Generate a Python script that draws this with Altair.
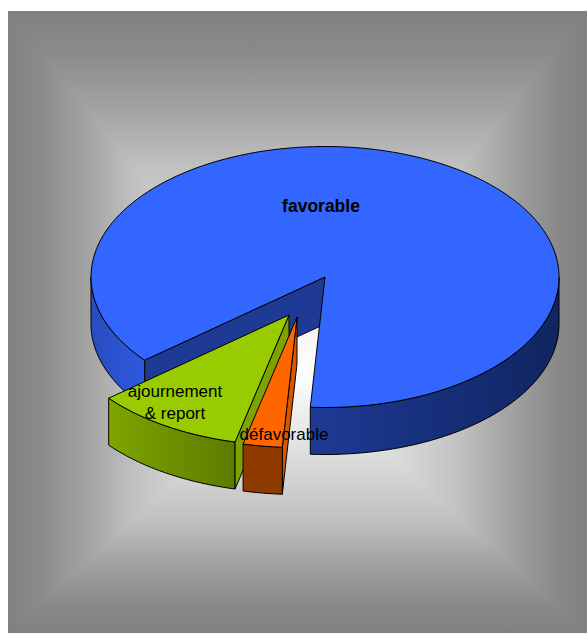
import math
import altair as alt

# Shares of opinions, in percent, going clockwise from the front of the pie
categories = ["défavorable", "ajournement & report", "favorable"]
shares = [2.7, 10.3, 87.0]
label_lines = ["défavorable", "ajournement\n& report", "favorable"]

# Pie drawn as an extruded ellipse
W, H = 587, 633
RX, RY = 234, 130.5
DEPTH = 47
START_ANGLE = 93.6
centres = [(297, 317), (289, 315), (325, 277)]
label_offsets = [(-13, 118), (-114, 77), (-4, -70)]

x_enc = alt.X("x:Q", axis=None, scale=alt.Scale(domain=[0, W], range=[0, W], nice=False, zero=False))
y_enc = alt.Y("y:Q", axis=None, scale=alt.Scale(domain=[0, H], range=[0, H], nice=False, zero=False))


def gradient(stops, horizontal=True, reverse=False, offsets=None):
    n = len(stops) - 1
    offs = offsets or [k / n for k in range(n + 1)]
    g = [alt.GradientStop(offset=o, color=c) for o, c in zip(offs, stops)]
    ends = dict(x1=0, x2=1, y1=0, y2=0) if horizontal else dict(x1=0, x2=0, y1=0, y2=1)
    if reverse:
        ends = dict(x1=ends["x2"], x2=ends["x1"], y1=ends["y2"], y2=ends["y1"])
    return alt.Gradient(gradient="linear", stops=g, **ends)


def face(points, fill, line=True):
    pts = list(points) + [points[0]]
    rows = [{"x": round(x, 2), "y": round(y, 2), "i": i} for i, (x, y) in enumerate(pts)]
    return alt.Chart(alt.Data(values=rows)).mark_line(
        fill=fill,
        stroke="#000000",
        strokeWidth=1 if line else 0,
        strokeJoin="miter",
    ).encode(x=x_enc, y=y_enc, order=alt.Order("i:Q"))


def rim(c, a0, a1):
    steps = max(2, int(abs(a1 - a0) / 2))
    out = []
    for k in range(steps + 1):
        a = math.radians(a0 + (a1 - a0) * k / steps)
        out.append((c[0] + RX * math.cos(a), c[1] + RY * math.sin(a)))
    return out


def drop(pts):
    return [(x, y + DEPTH) for x, y in pts]


# Slice boundaries from the shares
spans = []
a = START_ANGLE
for s in shares:
    spans.append((a, a + s * 3.6))
    a += s * 3.6

# Backdrop: a full-height vertical ramp, with side ramps laid over it.
# All ramps share one edge-to-centre profile so the diagonals stay seamless.
cx, cy = 297, 372
L, T, R, B = 8, 11, W, H
ramp_pos = [0, 0.11, 0.28, 0.43, 0.67, 1]
ramp_col = ["#808080", "#8a8a8a", "#a4a4a4", "#c0c0c0", "#dcdcdc", "#ffffff"]
m = (cy - T) / (B - T)
v_off = [p * m for p in ramp_pos] + [m + (1 - m) * (1 - p) for p in ramp_pos[::-1][1:]]
v_col = ramp_col + ramp_col[::-1][1:]
layers = [
    face([(L, T), (R, T), (R, B), (L, B)], gradient(v_col, horizontal=False, offsets=v_off), line=False),
    face([(L, T), (L, B), (cx, cy)], gradient(ramp_col, offsets=ramp_pos), line=False),
    face([(R, T), (R, B), (cx, cy)], gradient(ramp_col, offsets=ramp_pos, reverse=True), line=False),
]

# Favorable slice: sides first, top face last
c = centres[2]
a0, a1 = spans[2]
left_rim = rim(c, a0, 180)
layers.append(face(left_rim + drop(left_rim)[::-1], gradient(["#2e5ae0", "#284cc0"], reverse=True)))
front_rim = rim(c, a1, 360)
layers.append(face(front_rim + drop(front_rim)[::-1], gradient(["#1e3a94", "#102560"])))
edge = rim(c, a0, a0)[0]
layers.append(face([c, edge, drop([edge])[0], drop([c])[0]], "#1f3a94"))
layers.append(face([c] + rim(c, a0, a1), "#3366ff"))

# Ajournement slice
c = centres[1]
a0, a1 = spans[1]
outer = rim(c, a1, a0)
layers.append(face(outer + drop(outer)[::-1], gradient(["#7fa600", "#5c7a00"])))
edge = rim(c, a0, a0)[0]
layers.append(face([c, drop([c])[0], drop([edge])[0], edge], "#7da300"))
layers.append(face([c] + rim(c, a0, a1), "#99cc00"))

# Défavorable slice
c = centres[0]
a0, a1 = spans[0]
outer = rim(c, a1, a0)
edge = rim(c, a0, a0)[0]
layers.append(face([c, drop([c])[0], drop([edge])[0], edge], "#d95500"))
layers.append(face(outer + drop(outer)[::-1], "#8f3b00"))
layers.append(face([c] + rim(c, a0, a1), "#ff6600"))

# Labels
for i, (text, c, off) in enumerate(zip(label_lines, centres, label_offsets)):
    layers.append(
        alt.Chart(alt.Data(values=[{"x": c[0] + off[0], "y": c[1] + off[1], "t": text}])).mark_text(
            font="Liberation Sans",
            fontSize=17.5 if i == 2 else 17,
            fontWeight="bold" if i == 2 else "normal",
            color="#000000",
            align="center",
            baseline="middle",
            lineBreak="\n",
            lineHeight=22,
        ).encode(x=x_enc, y=y_enc, text="t:N")
    )

chart = (
    alt.layer(*layers)
    .properties(width=W, height=H, padding=0, autosize=alt.AutoSizeParams(type="none"), background="#ffffff")
    .configure_view(strokeWidth=0)
)
chart.save("out.html", embed_options={"renderer": "svg", "actions": False})
